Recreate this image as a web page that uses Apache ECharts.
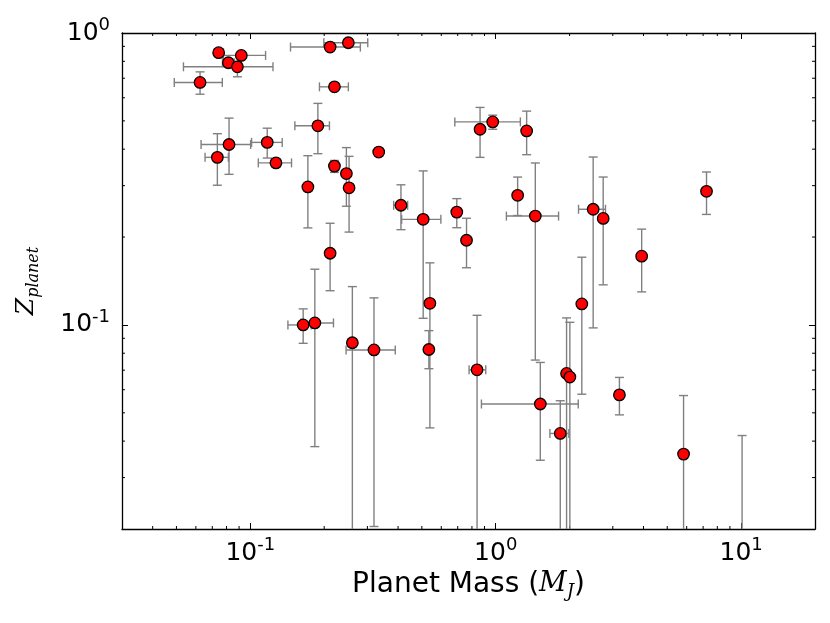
<!DOCTYPE html>
<html><head><meta charset="utf-8">
<script src="https://cdn.jsdelivr.net/npm/echarts@6/dist/echarts.min.js"></script>
<style>html,body{margin:0;padding:0;background:#fff}#c{width:830px;height:623px}</style>
</head><body><div id="c"></div>
<script>
// Planet mass (M_J) with lower/upper bounds
const mass   = [0.0743,0.0919,0.0814,0.0886,0.0624,0.2114,0.2509,0.2202,0.1885,0.1172,0.0819,0.0734,0.1272,0.2202,0.2463,0.1716,0.2526,0.2114,0.1642,0.1832,0.2605,0.3191,0.3336,0.8633,0.9723,1.3366,1.2284,1.4499,0.4110,0.5063,0.6940,0.7603,0.5392,0.5340,0.8394,2.243,1.944,2.005,1.8323,1.5194,2.495,2.741,3.933,7.227,3.192,5.827,10.09];
const massLo = [0.0714,0.0777,0.0770,0.0534,0.0490,0.1458,0.1993,0.1913,0.1519,0.1012,0.0630,0.0654,0.1078,0.2120,0.2463,0.1660,0.2450,0.2114,0.1423,0.1610,0.2500,0.2456,0.3270,0.8633,0.6813,1.3366,1.2284,1.1053,0.3838,0.4137,0.6940,0.7603,0.5250,0.5340,0.7789,2.243,1.944,2.005,1.6628,0.8746,2.175,2.741,3.933,7.227,3.192,5.827,10.09];
const massHi = [0.0777,0.1154,0.0860,0.1237,0.0769,0.2808,0.3010,0.2509,0.2101,0.1349,0.1003,0.0814,0.1472,0.2290,0.2463,0.1780,0.2600,0.2114,0.1770,0.2182,0.2700,0.3896,0.3400,0.8633,1.2600,1.3366,1.2284,1.8034,0.4376,0.5977,0.6940,0.7603,0.5550,0.5340,0.9107,2.243,1.944,2.005,1.9861,2.169,2.801,2.741,3.933,7.227,3.192,5.827,10.09];
// Planet metallicity Z with lower/upper bounds
const zVal = [0.856,0.838,0.791,0.766,0.677,0.895,0.926,0.654,0.481,0.422,0.415,0.375,0.359,0.350,0.330,0.297,0.295,0.176,0.100,0.1016,0.0869,0.0821,0.391,0.468,0.496,0.462,0.278,0.236,0.257,0.230,0.2435,0.195,0.1186,0.0824,0.0702,0.118,0.0682,0.0663,0.0425,0.0536,0.249,0.2317,0.172,0.2869,0.0576,0.0361,0.012];
const zLo  = [0.835,0.820,0.772,0.708,0.617,0.880,0.910,0.640,0.386,0.373,0.328,0.301,0.348,0.333,0.255,0.215,0.208,0.131,0.0865,0.0383,0.005,0.0204,0.380,0.375,0.468,0.383,0.237,0.0758,0.212,0.1054,0.2153,0.157,0.0444,0.0708,0.005,0.0579,0.005,0.005,0.005,0.0344,0.0977,0.1372,0.1298,0.2391,0.0492,0.005,0.005];
const zHi  = [0.878,0.858,0.810,0.800,0.736,0.910,0.942,0.668,0.574,0.472,0.511,0.452,0.370,0.366,0.405,0.380,0.378,0.223,0.1135,0.1552,0.1353,0.1238,0.402,0.556,0.523,0.540,0.321,0.3587,0.302,0.337,0.2708,0.232,0.1632,0.0956,0.1079,0.1706,0.1057,0.1021,0.055,0.0744,0.376,0.3211,0.2129,0.3341,0.0661,0.0573,0.0418];
// Axes
const xRange = [0.03, 20];
const yRange = [0.02, 1];
const xMinorTicks = [0.04,0.05,0.06,0.07,0.08,0.09,0.2,0.3,0.4,0.5,0.6,0.7,0.8,0.9,2,3,4,5,6,7,8,9];
const yMinorTicks = [0.03,0.04,0.05,0.06,0.07,0.08,0.09,0.2,0.3,0.4,0.5,0.6,0.7,0.8,0.9];
const xTitle = ['Planet Mass (', 'M', 'J', ')'];
const yTitle = ['Z', 'planet'];

const chart = echarts.init(document.getElementById('c'), null, {renderer:'canvas'});

const errRows = mass.map((m,i)=>[m, zVal[i], massLo[i], massHi[i], zLo[i], zHi[i]]);
const ptRows = mass.map((m,i)=>[m, zVal[i]]);

const ERR = '#808080';
function renderErr(params, api){
  const m = api.value(0), z = api.value(1), ml = api.value(2), mh = api.value(3), zl = api.value(4), zh = api.value(5);
  const c = api.coord([m, z]);
  const st = {stroke: ERR, lineWidth: 1.4};
  const cap = 4.5;
  const ch = [];
  if (zl !== zh) {
    const a = api.coord([m, zl])[1], b = api.coord([m, zh])[1];
    ch.push({type:'line', shape:{x1:c[0], y1:a, x2:c[0], y2:b}, style:st});
    ch.push({type:'line', shape:{x1:c[0]-cap, y1:a, x2:c[0]+cap, y2:a}, style:st});
    ch.push({type:'line', shape:{x1:c[0]-cap, y1:b, x2:c[0]+cap, y2:b}, style:st});
  }
  if (ml !== mh) {
    const a = api.coord([ml, z])[0], b = api.coord([mh, z])[0];
    ch.push({type:'line', shape:{x1:a, y1:c[1], x2:b, y2:c[1]}, style:st});
    ch.push({type:'line', shape:{x1:a, y1:c[1]-cap, x2:a, y2:c[1]+cap}, style:st});
    ch.push({type:'line', shape:{x1:b, y1:c[1]-cap, x2:b, y2:c[1]+cap}, style:st});
  }
  return {type:'group', children: ch};
}
function renderXMinor(params, api){
  const cs = params.coordSys;
  const x = api.coord([api.value(0), api.value(1)])[0];
  const st = {stroke:'#000', lineWidth:1};
  return {type:'group', children:[
    {type:'line', shape:{x1:x, y1:cs.y+cs.height, x2:x, y2:cs.y+cs.height-3}, style:st},
    {type:'line', shape:{x1:x, y1:cs.y, x2:x, y2:cs.y+3}, style:st}
  ]};
}
function renderYMinor(params, api){
  const cs = params.coordSys;
  const y = api.coord([api.value(0), api.value(1)])[1];
  const st = {stroke:'#000', lineWidth:1};
  return {type:'group', children:[
    {type:'line', shape:{x1:cs.x, y1:y, x2:cs.x+3, y2:y}, style:st},
    {type:'line', shape:{x1:cs.x+cs.width, y1:y, x2:cs.x+cs.width-3, y2:y}, style:st}
  ]};
}
function powLabel(v){
  const l = Math.log10(v), e = Math.round(l);
  if (Math.abs(l - e) > 1e-6) return '';
  return '{b|10}{s|' + e + '}';
}
const tickRich = {
  b: {fontFamily:'DejaVu Sans', fontSize:25, color:'#000', lineHeight:34},
  s: {fontFamily:'DejaVu Sans', fontSize:18, color:'#000', lineHeight:18, verticalAlign:'top'}
};
const lineStyle = {color:'#000', width:1.3};
function mkAxis(pos, range, main){
  return {
    type:'log', logBase:10, position:pos, min:range[0], max:range[1],
    axisLine:{show:true, onZero:false, lineStyle},
    axisTick:{show:true, inside:true, length:6, lineStyle:{color:'#000', width:1}},
    splitLine:{show:false}, minorTick:{show:false}, minorSplitLine:{show:false},
    axisLabel:{show:main, formatter:powLabel, rich:tickRich, showMinLabel:true, showMaxLabel:true, hideOverlap:false}
  };
}
const xMain = Object.assign(mkAxis('bottom', xRange, true), {
  name: '{n|' + xTitle[0] + '}{i|' + xTitle[1] + '}{j|' + xTitle[2] + '}{n|' + xTitle[3] + '}',
  nameLocation:'middle', nameGap:35,
  nameTextStyle:{rich:{
    n:{fontFamily:'DejaVu Sans', fontSize:28, color:'#000', lineHeight:34},
    i:{fontFamily:'DejaVu Serif', fontStyle:'italic', fontSize:27, color:'#000', lineHeight:34},
    j:{fontFamily:'DejaVu Serif', fontStyle:'italic', fontSize:18, color:'#000', lineHeight:17, verticalAlign:'bottom'}
  }}
});
xMain.axisLabel.margin = 7;
const yMain = Object.assign(mkAxis('left', yRange, true), {
  name: '{z|' + yTitle[0] + '}{p|' + yTitle[1] + '}',
  nameLocation:'middle', nameGap:80, nameRotate:90,
  nameTextStyle:{rich:{
    z:{fontFamily:'DejaVu Serif', fontStyle:'italic', fontSize:25, color:'#000', lineHeight:32},
    p:{fontFamily:'DejaVu Serif', fontStyle:'italic', fontSize:16, color:'#000', lineHeight:15, verticalAlign:'bottom'}
  }}
});
yMain.axisLabel.margin = 12;

chart.setOption({
  animation:false,
  backgroundColor:'#fff',
  grid:{left:122, right:15, top:33, bottom:94, containLabel:false},
  xAxis:[xMain, mkAxis('top', xRange, false)],
  yAxis:[yMain, mkAxis('right', yRange, false)],
  series:[
    {type:'custom', name:'xminor', data:xMinorTicks.map(v=>[v, 0.1]), encode:{x:0, y:1}, renderItem:renderXMinor, silent:true, z:1, clip:false},
    {type:'custom', name:'yminor', data:yMinorTicks.map(v=>[0.1, v]), encode:{x:0, y:1}, renderItem:renderYMinor, silent:true, z:1, clip:false},
    {type:'custom', name:'errors', data:errRows, encode:{x:0, y:1}, renderItem:renderErr, clip:true, z:2, silent:true},
    {type:'scatter', name:'planets', data:ptRows, symbol:'circle', symbolSize:11.5, clip:true, z:3,
     itemStyle:{color:'#ff0000', borderColor:'#000', borderWidth:1.3, opacity:1}}
  ]
});
</script>
</body></html>
